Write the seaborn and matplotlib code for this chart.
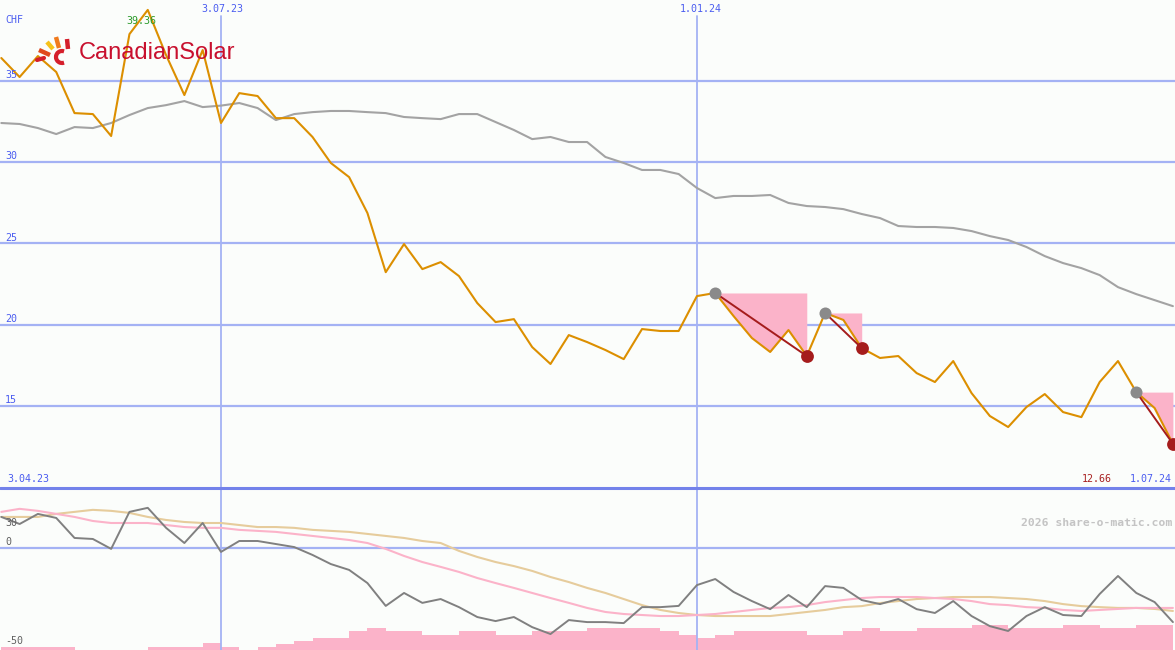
import numpy as np
import pandas as pd
import matplotlib
matplotlib.use("Agg")
import matplotlib.pyplot as plt
from matplotlib.lines import Line2D
from matplotlib.patches import Arc
from matplotlib.transforms import IdentityTransform
import seaborn as sns

# ---------------- data ----------------
first_week = "2023-04-10"
n_weeks = 65
price = [36.40, 35.23, 36.52, 35.54, 33.01, 32.95, 31.60, 37.87, 39.36, 36.58,
         34.12, 36.89, 32.40, 34.24, 34.06, 32.70, 32.70, 31.54, 29.94, 29.07,
         26.86, 23.22, 24.95, 23.41, 23.84, 22.98, 21.32, 20.15, 20.33, 18.61,
         17.57, 19.35, 18.92, 18.43, 17.87, 19.72, 19.60, 19.60, 21.75, 21.94,
         20.52, 19.17, 18.31, 19.66, 18.06, 20.71, 20.28, 18.55, 17.94, 18.06,
         17.01, 16.46, 17.75, 15.78, 14.37, 13.69, 14.92, 15.72, 14.61, 14.30,
         16.46, 17.75, 15.84, 14.86, 12.66]
moving_avg = [32.40, 32.34, 32.09, 31.72, 32.15, 32.09, 32.40, 32.89, 33.32, 33.50,
              33.75, 33.38, 33.47, 33.63, 33.32, 32.58, 32.95, 33.07, 33.14, 33.14,
              33.07, 33.01, 32.77, 32.70, 32.64, 32.95, 32.95, 32.46, 31.97, 31.41,
              31.54, 31.23, 31.23, 30.31, 29.94, 29.51, 29.51, 29.26, 28.40, 27.78,
              27.91, 27.91, 27.97, 27.48, 27.29, 27.23, 27.10, 26.80, 26.55, 26.06,
              26.00, 26.00, 25.94, 25.75, 25.44, 25.20, 24.77, 24.21, 23.78, 23.47,
              23.04, 22.30, 21.87, 21.50, 21.13]
momentum = [15.2, 11.7, 16.7, 14.7, 4.8, 4.3, -0.6, 17.7, 19.7, 9.8,
            2.3, 12.2, -2.1, 3.3, 3.3, 1.8, 0.3, -3.6, -8.1, -11.0,
            -17.5, -28.8, -22.4, -27.3, -25.4, -29.4, -34.3, -36.3, -34.3, -39.3,
            -42.7, -35.8, -36.8, -36.8, -37.3, -29.4, -29.4, -28.8, -18.5, -15.5,
            -21.9, -26.4, -30.4, -23.4, -29.4, -19.0, -19.9, -25.9, -27.9, -25.4,
            -30.4, -32.3, -26.4, -33.8, -38.8, -41.2, -33.8, -29.4, -33.3, -33.8,
            -22.9, -14.0, -22.4, -26.9, -36.8]
signal_pink = [17.7, 19.2, 18.2, 16.7, 15.2, 13.2, 12.2, 12.2, 12.2, 11.2,
               10.2, 9.8, 9.8, 8.8, 8.3, 7.8, 6.8, 5.8, 4.8, 3.8,
               2.3, -0.6, -4.1, -7.1, -9.5, -12.0, -15.0, -17.5, -19.9, -22.4,
               -24.9, -27.3, -29.8, -31.8, -32.8, -33.3, -33.8, -33.8, -33.3, -32.8,
               -31.8, -30.8, -29.8, -29.4, -28.4, -26.9, -25.9, -24.9, -24.4, -24.4,
               -24.4, -24.9, -25.4, -26.4, -27.9, -28.4, -29.4, -29.8, -30.8, -31.3,
               -30.8, -30.3, -29.8, -29.8, -29.8]
signal_tan = [15.2, 15.2, 15.2, 16.7, 17.7, 18.7, 18.2, 17.2, 15.2, 13.7,
              12.7, 12.2, 12.2, 11.2, 10.2, 10.2, 9.8, 8.8, 8.3, 7.8,
              6.8, 5.8, 4.8, 3.3, 2.3, -1.6, -4.6, -7.1, -9.1, -11.5,
              -14.5, -17.0, -19.9, -22.4, -25.4, -28.4, -30.8, -32.3, -33.3, -33.8,
              -33.8, -33.8, -33.8, -32.8, -31.8, -30.8, -29.4, -28.9, -27.4, -26.4,
              -25.4, -24.9, -24.4, -24.4, -24.4, -24.9, -25.4, -26.4, -27.9, -28.9,
              -29.4, -29.8, -29.8, -30.3, -31.3]
volume = [3, 3, 3, 3, 0, 0, 0, 0, 3, 3,
          3, 7, 3, 0, 3, 6, 9, 12, 12, 19,
          22, 19, 19, 15, 15, 19, 19, 15, 15, 19,
          19, 19, 22, 22, 22, 22, 19, 15, 12, 15,
          19, 19, 19, 19, 15, 15, 19, 22, 19, 19,
          22, 22, 22, 25, 25, 22, 22, 22, 25, 25,
          22, 22, 25, 25]
drawdowns = [(39, 44), (45, 47), (62, 64)]
marker_dates = ["2023-07-03", "2024-01-01"]
marker_labels = ["3.07.23", "1.01.24"]
main_ticks = [35, 30, 25, 20, 15]
low_ticks = ["30", "0", "-50"]
peak_label = "39.36"
last_label = "12.66"
start_label = "3.04.23"
end_label = "1.07.24"

# ---------------- styling ----------------
sns.set_style("white")
plt.rcParams["font.family"] = ["DejaVu Sans Mono", "DejaVu Sans"]

W, H = 1175, 650
BG = "#fbfdfb"
GRID = "#a4b2f4"
SEP = "#7382ea"
BLUE_TXT = "#4a5cf0"
ORANGE = "#dc8f00"
PINK = "#fbb3c9"
TAN = "#e6cc9c"
DARKRED = "#a51c1c"

dates = pd.date_range(first_week, periods=n_weeks, freq="7D")
ref = pd.Timestamp("2023-07-03")
xlim = (ref - pd.Timedelta(days=84.5), ref + pd.Timedelta(days=364.8))

fig = plt.figure(figsize=(W / 100, H / 100), dpi=100, facecolor=BG)
ax = fig.add_axes([0, 163 / H, 1, 487 / H])
axl = fig.add_axes([0, 0, 1, 163 / H])
axv = axl.twinx()
for a in (ax, axl, axv):
    a.set_facecolor("none")
    for s in a.spines.values():
        s.set_visible(False)
    a.set_xticks([])
    a.set_yticks([])
ax.set_facecolor(BG)
axl.set_facecolor(BG)
axl.set_zorder(1)
axv.set_zorder(0)
axl.patch.set_visible(False)
fig.patch.set_facecolor(BG)

# ---------------- main panel ----------------
ax.set_xlim(xlim)
ax.set_ylim(10.0, 39.97)
for v in main_ticks:
    ax.axhline(v, color=GRID, lw=1.6, zorder=1)
for d in marker_dates:
    ax.axvline(pd.Timestamp(d), ymin=0, ymax=(487 - 16) / 487, color=GRID, lw=1.3, zorder=1)

for s, e in drawdowns:
    ax.fill_between(dates[s:e + 1], price[s:e + 1], price[s], color=PINK, lw=0, zorder=2)

sns.lineplot(x=dates, y=moving_avg, ax=ax, color="#a3a3a3", lw=1.5, zorder=3, legend=False)
sns.lineplot(x=dates, y=price, ax=ax, color=ORANGE, lw=1.5, zorder=4, legend=False)

for s, e in drawdowns:
    ax.plot([dates[s], dates[e]], [price[s], price[e]], color=DARKRED, lw=1.4, zorder=5)
    ax.scatter([dates[s]], [price[s]], s=75, color="#8a8a8a", zorder=6, lw=0)
    ax.scatter([dates[e]], [price[e]], s=85, color=DARKRED, zorder=6, lw=0)

ax.set_xlabel("")
ax.set_ylabel("")
ax.set_xticks([])
ax.set_yticks([])

# ---------------- lower panel ----------------
axl.set_xlim(xlim)
axl.set_ylim(-50.6, 30)
axv.set_xlim(xlim)
axv.set_ylim(0, 163)
axv.bar(dates[:-1], volume, width=7.05, align="edge", color=PINK, lw=0)
axl.axhline(0, color=GRID, lw=1.6, zorder=1)
for d in marker_dates:
    axl.axvline(pd.Timestamp(d), color=GRID, lw=1.3, zorder=1)
sns.lineplot(x=dates, y=signal_tan, ax=axl, color=TAN, lw=1.5, zorder=3, legend=False)
sns.lineplot(x=dates, y=signal_pink, ax=axl, color=PINK, lw=1.5, zorder=3, legend=False)
sns.lineplot(x=dates, y=momentum, ax=axl, color="#808080", lw=1.4, zorder=4, legend=False)
for a in (axl, axv):
    a.set_xlabel("")
    a.set_ylabel("")
    a.set_xticks([])
    a.set_yticks([])

# separator between panels
fig.add_artist(Line2D([0, 1], [1 - 487.5 / H, 1 - 487.5 / H], transform=fig.transFigure,
                      color=SEP, lw=2.2))


# ---------------- texts ----------------
def T(x, y, s, **kw):
    fig.text(x / W, 1 - y / H, s, **kw)


FS = 7.2
T(5, 20, "CHF", color=BLUE_TXT, fontsize=FS, va="center", ha="left")
for v, y in zip(main_ticks, [75, 156, 238, 319, 400]):
    T(5, y, str(v), color=BLUE_TXT, fontsize=FS, va="center", ha="left")
T(222, 9, marker_labels[0], color=BLUE_TXT, fontsize=FS, va="center", ha="center")
T(701, 9, marker_labels[1], color=BLUE_TXT, fontsize=FS, va="center", ha="center")
T(141, 21, peak_label, color="#2a9a2a", fontsize=FS, va="center", ha="center")
T(7, 479, start_label, color=BLUE_TXT, fontsize=FS, va="center", ha="left")
T(1112, 479, last_label, color="#a82020", fontsize=FS, va="center", ha="right")
T(1172, 479, end_label, color=BLUE_TXT, fontsize=FS, va="center", ha="right")
T(1172, 523, "2026 share-o-matic.com", color="#c4c4c4", fontsize=8.2, fontweight="bold",
  va="center", ha="right")
for s, y in zip(low_ticks, [523, 542, 641]):
    T(5, y, s, color="#606060", fontsize=FS, va="center", ha="left")

# logo
T(79, 53, "CanadianSolar", color="#c8102e", fontsize=17, family="Liberation Sans",
  va="center", ha="left")


def P(x, y):
    return (x, H - y)


rays = [((47, 42), (53, 49), "#f6c21a"), ((56, 37), (59, 48), "#f07a1c"),
        ((67, 39), (68, 49), "#d51f2b"), ((39, 50), (50, 55), "#e04a1e")]
for (a, b, c) in rays:
    (x0, y0), (x1, y1) = P(*a), P(*b)
    fig.add_artist(Line2D([x0, x1], [y0, y1], transform=IdentityTransform(),
                          color=c, lw=3.2, solid_capstyle="butt"))
cx, cy = P(62, 57)
fig.add_artist(Arc((cx, cy), 12, 12, theta1=70, theta2=290, transform=IdentityTransform(),
                   color="#d51f2b", lw=3))
x0, y0 = P(37, 60)
x1, y1 = P(44, 58)
fig.add_artist(Line2D([x0, x1], [y0, y1], transform=IdentityTransform(),
                      color="#d51f2b", lw=3))

fig.savefig("out.png", dpi=100, facecolor=BG)
